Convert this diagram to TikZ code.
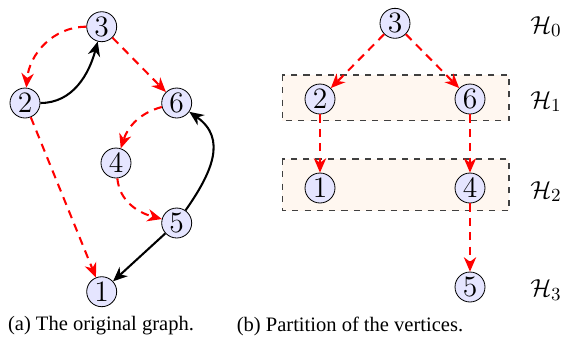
\documentclass[tikz,border=0pt]{standalone}
\usepackage{amsmath,amssymb}
\usepackage{fontspec}
\newfontfamily\capfont{Liberation Serif}
\usetikzlibrary{arrows.meta}

\begin{document}
\begin{tikzpicture}[x=0.487pt, y=-0.487pt,
    vertex/.style={circle, draw, fill=blue!10, inner sep=0pt, minimum size=14.6pt, font=\fontsize{13.5}{15}\selectfont},
    redarc/.style={draw=red, line width=1pt, dash pattern=on 4pt off 3pt, -{Stealth[length=7pt, width=6pt, inset=2.2pt]}},
    blackarc/.style={draw=black, line width=1pt, -{Stealth[length=7pt, width=6pt, inset=2.2pt]}},
    layer/.style={draw=black!75, dashed, fill=orange!6, line width=0.5pt},
    hlabel/.style={font=\fontsize{13}{15}\selectfont},
    caption/.style={font=\capfont\fontsize{10}{12}\selectfont}]
    \useasboundingbox (0,0) rectangle (571,345);

    % (a) the original graph
    \node[vertex] (l3) at (101.7,26.7) {$3$};
    \node[vertex] (l2) at (25,103) {$2$};
    \node[vertex] (l6) at (176.7,103) {$6$};
    \node[vertex] (l4) at (116,163) {$4$};
    \node[vertex] (l5) at (176.7,223) {$5$};
    \node[vertex] (l1) at (101.7,291.7) {$1$};
        \draw[redarc] (l3) to[out=180,in=85] (l2);
        \draw[blackarc] (l2) to[out=0,in=-105] (l3);
        \draw[redarc] (l3) -- (l6);
        \draw[redarc] (l6) to[out=195,in=72] (l4);
        \draw[redarc] (l4) to[out=-85,in=165] (l5);
        \draw[blackarc] (l5) to[out=55,in=-35,looseness=1.2] (l6);
        \draw[blackarc] (l5) -- (l1);
        \draw[redarc] (l2) -- (l1);

    % (b) partition of the vertices
    \draw[layer] (282.3,75) rectangle (509,120.7);
    \draw[layer] (282.3,159) rectangle (509,210.7);
    \node[vertex] (r3) at (395,23.3) {$3$};
    \node[vertex] (r2) at (320,99) {$2$};
    \node[vertex] (r6) at (470,99) {$6$};
    \node[vertex] (r1) at (320,188) {$1$};
    \node[vertex] (r4) at (470,188) {$4$};
    \node[vertex] (r5) at (470,287) {$5$};
        \draw[redarc] (r3) -- (r2);
        \draw[redarc] (r3) -- (r6);
        \draw[redarc] (r2) -- (r1);
        \draw[redarc] (r6) -- (r4);
        \draw[redarc] (r4) -- (r5);
    \node[hlabel] (h0) at (546,26.7) {$\mathcal{H}_0$};
    \node[hlabel] (h1) at (546,101.7) {$\mathcal{H}_1$};
    \node[hlabel] (h2) at (546,191.7) {$\mathcal{H}_2$};
    \node[hlabel] (h3) at (546,290) {$\mathcal{H}_3$};

    \node[caption] (capa) at (101,326) {(a) The original graph.};
    \node[caption] (capb) at (350,326) {(b) Partition of the vertices.};
\end{tikzpicture}
\end{document}
